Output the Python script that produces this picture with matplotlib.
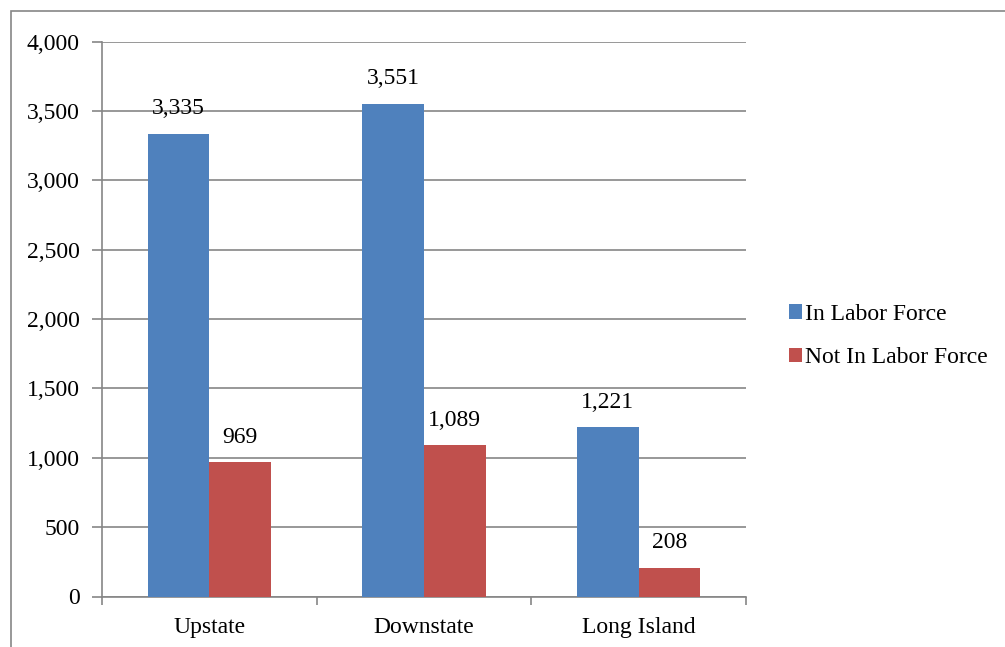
import matplotlib.pyplot as plt
import matplotlib.ticker as mticker
from matplotlib.patches import Rectangle
import numpy as np

regions = ['Upstate', 'Downstate', 'Long Island']
in_labor = [3335, 3551, 1221]
not_in_labor = [969, 1089, 208]
series_names = ['In Labor Force', 'Not In Labor Force']

plt.rcParams['font.family'] = ['Liberation Serif', 'DejaVu Serif']
grid_col = '#868686'
blue = '#4F81BD'
red = '#C0504D'
fs = 17

fig = plt.figure(figsize=(10.05, 6.47), dpi=100)
# chart frame (cropped on right/bottom in reference)
fig.patches.append(Rectangle((11 / 1005, -0.1), 1.2, (647 - 11) / 647 + 0.1,
                             transform=fig.transFigure, fill=False,
                             edgecolor=grid_col, linewidth=1.2))

ax = fig.add_axes([102 / 1005, (647 - 596.5) / 647, (746 - 102) / 1005, (596.5 - 41.5) / 647])

x = np.arange(len(regions))
w = 0.287
b1 = ax.bar(x - w / 2, in_labor, w, color=blue, label=series_names[0], zorder=3)
b2 = ax.bar(x + w / 2, not_in_labor, w, color=red, label=series_names[1], zorder=3)

for bars, vals in [(b1, in_labor), (b2, not_in_labor)]:
    for r, v in zip(bars, vals):
        ax.annotate(f'{v:,}', (r.get_x() + r.get_width() / 2, v), xytext=(0, 18),
                    textcoords='offset points', ha='center', va='center', fontsize=fs)

ax.set_xlim(-0.5, 2.5)
ax.set_ylim(0, 4000)
ax.yaxis.set_major_locator(mticker.MultipleLocator(500))
ax.yaxis.set_major_formatter(mticker.FuncFormatter(lambda v, p: f'{int(v):,}'))
ax.yaxis.grid(True, color=grid_col, linewidth=1.2, zorder=0)
ax.set_axisbelow(True)

ax.set_xticks(x)
ax.set_xticklabels(regions, fontsize=fs)
ax.set_xticks([-0.5, 0.5, 1.5, 2.5], minor=True)
ax.tick_params(axis='x', which='major', length=0, pad=15)
ax.tick_params(axis='x', which='minor', length=6, color=grid_col, width=1.2)
ax.tick_params(axis='y', length=7, color=grid_col, width=1.2, labelsize=fs, pad=9)

for s in ['top', 'right']:
    ax.spines[s].set_visible(False)
for s in ['left', 'bottom']:
    ax.spines[s].set_color(grid_col)
    ax.spines[s].set_linewidth(1.2)

fig.legend(handles=[b1, b2], labels=series_names, loc='center left',
           bbox_to_anchor=(777 / 1005, 1 - 336 / 647), frameon=False, fontsize=fs,
           handlelength=0.55, handleheight=0.55, handletextpad=0.12, labelspacing=0.95,
           borderpad=0, borderaxespad=0.5)

fig.savefig('out.png', dpi=100)
